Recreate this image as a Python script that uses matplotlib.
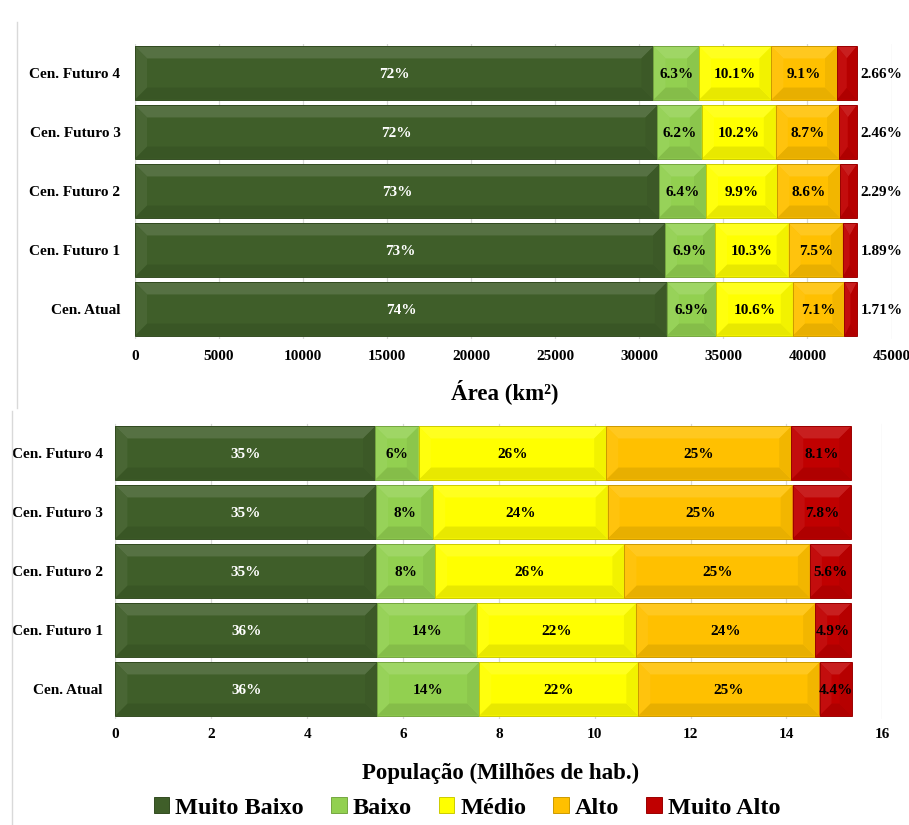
import matplotlib.pyplot as plt
from matplotlib.patches import Polygon, Rectangle, Patch
from matplotlib.lines import Line2D
from matplotlib.colors import to_rgb

plt.rcParams['font.family'] = ['Liberation Serif', 'DejaVu Serif']
plt.rcParams['font.weight'] = 'bold'

W, H = 909, 825

# categories, bottom to top
categories = ['Cen. Atual', 'Cen. Futuro 1', 'Cen. Futuro 2', 'Cen. Futuro 3', 'Cen. Futuro 4']
classes = ['Muito Baixo', 'Baixo', 'Médio', 'Alto', 'Muito Alto']
colors = ['#3F5E29', '#92D050', '#FFFF00', '#FFC000', '#C00000']
text_colors = ['white', 'black', 'black', 'black', 'black']

# area (km2) per susceptibility class
area_muito_baixo = [31640, 31530, 31180, 31080, 30840]
area_baixo = [2930, 2970, 2790, 2640, 2715]
area_medio = [4560, 4380, 4240, 4400, 4300]
area_alto = [3070, 3230, 3730, 3760, 3905]
area_muito_alto = [740, 810, 990, 1050, 1170]

area_lbl_muito_baixo = ['74%', '73%', '73%', '72%', '72%']
area_lbl_baixo = ['6.9%', '6.9%', '6.4%', '6.2%', '6.3%']
area_lbl_medio = ['10.6%', '10.3%', '9.9%', '10.2%', '10.1%']
area_lbl_alto = ['7.1%', '7.5%', '8.6%', '8.7%', '9.1%']
area_lbl_muito_alto = ['1.71%', '1.89%', '2.29%', '2.46%', '2.66%']

# population (millions) per susceptibility class
pop_muito_baixo = [5.46, 5.46, 5.44, 5.44, 5.42]
pop_baixo = [2.13, 2.08, 1.23, 1.19, 0.91]
pop_medio = [3.32, 3.32, 3.95, 3.64, 3.91]
pop_alto = [3.78, 3.74, 3.87, 3.86, 3.86]
pop_muito_alto = [0.67, 0.75, 0.86, 1.22, 1.25]

pop_lbl_muito_baixo = ['36%', '36%', '35%', '35%', '35%']
pop_lbl_baixo = ['14%', '14%', '8%', '8%', '6%']
pop_lbl_medio = ['22%', '22%', '26%', '24%', '26%']
pop_lbl_alto = ['25%', '24%', '25%', '25%', '25%']
pop_lbl_muito_alto = ['4.4%', '4.9%', '5.6%', '7.8%', '8.1%']


def mix(c, other, t):
    return tuple((1 - t) * a + t * b for a, b in zip(to_rgb(c), other))


def bevel(ax, rect, color, depth_px=12):
    x0, y0 = rect.get_x(), rect.get_y()
    w, h = rect.get_width(), rect.get_height()
    x1, y1 = x0 + w, y0 + h
    bb = ax.bbox
    xl, yl = ax.get_xlim(), ax.get_ylim()
    dx = min((xl[1] - xl[0]) / bb.width * depth_px, w / 2)
    dy = min((yl[1] - yl[0]) / bb.height * depth_px, h / 2)
    ix0, ix1, iy0, iy1 = x0 + dx, x1 - dx, y0 + dy, y1 - dy
    white, black = (1, 1, 1), (0, 0, 0)
    faces = [
        ([(x0, y1), (x1, y1), (ix1, iy1), (ix0, iy1)], mix(color, white, 0.12)),
        ([(x0, y0), (x1, y0), (ix1, iy0), (ix0, iy0)], mix(color, black, 0.09)),
        ([(x0, y0), (x0, y1), (ix0, iy1), (ix0, iy0)], mix(color, white, 0.05)),
        ([(x1, y0), (x1, y1), (ix1, iy1), (ix1, iy0)], mix(color, black, 0.05)),
    ]
    for pts, fc in faces:
        ax.add_patch(Polygon(pts, closed=True, fc=fc, lw=0, zorder=2.2))
    ax.add_patch(Rectangle((x0, y0), w, h, fill=False, ec=mix(color, black, 0.2),
                           lw=0.7, zorder=2.4))


def stacked(ax, series, labels, outside_last=False):
    y = range(len(categories))
    left = [0] * len(categories)
    for k, (vals, lbls) in enumerate(zip(series, labels)):
        bars = ax.barh(y, vals, left=left, height=0.9, color=colors[k], lw=0, zorder=2)
        for i, rect in enumerate(bars):
            bevel(ax, rect, colors[k])
            cy = rect.get_y() + rect.get_height() / 2
            if outside_last and k == len(series) - 1:
                ax.annotate(lbls[i], (rect.get_x() + rect.get_width(), cy),
                            xytext=(3, 0), textcoords='offset points',
                            ha='left', va='center_baseline', fontsize=11,
                            color='black', zorder=3)
            else:
                ax.text(rect.get_x() + rect.get_width() / 2, cy, lbls[i],
                        ha='center', va='center_baseline', fontsize=11,
                        color=text_colors[k], zorder=3)
        left = [a + b for a, b in zip(left, vals)]


def style(ax, xmax, step, ypad, xpad):
    ax.set_xlim(0, xmax)
    ax.set_ylim(-0.5, len(categories) - 0.5)
    ax.set_xticks(range(0, xmax + 1, step))
    ax.set_yticks(range(len(categories)))
    ax.set_yticklabels(categories)
    for s in ax.spines.values():
        s.set_visible(False)
    ax.set_axisbelow(True)
    ax.xaxis.grid(True, color='#D9D9D9', lw=0.9)
    ax.tick_params(axis='both', length=0, labelsize=11)
    ax.tick_params(axis='y', pad=ypad)
    ax.tick_params(axis='x', pad=xpad)


fig = plt.figure(figsize=(W / 100, H / 100), dpi=100)

ax1 = fig.add_axes([135 / W, 1 - 338.5 / H, (891.5 - 135) / W, 295 / H])
ax2 = fig.add_axes([115.4 / W, 1 - 718.5 / H, (882.3 - 115.4) / W, 295 / H])

style(ax1, 45000, 5000, 10.5, 8)
style(ax2, 16, 2, 9, 7)

stacked(ax1,
        [area_muito_baixo, area_baixo, area_medio, area_alto, area_muito_alto],
        [area_lbl_muito_baixo, area_lbl_baixo, area_lbl_medio, area_lbl_alto, area_lbl_muito_alto],
        outside_last=True)
stacked(ax2,
        [pop_muito_baixo, pop_baixo, pop_medio, pop_alto, pop_muito_alto],
        [pop_lbl_muito_baixo, pop_lbl_baixo, pop_lbl_medio, pop_lbl_alto, pop_lbl_muito_alto])

fig.text(505 / W, 1 - 392 / H, 'Área (km²)', ha='center', va='center', fontsize=16.5)
fig.text(501 / W, 1 - 773 / H, 'População (Milhões de hab.)', ha='center', va='center',
         fontsize=16.5)

# panel borders
fig.add_artist(Line2D([16.7 / W] * 2, [1 - 22 / H, 1 - 408 / H], transform=fig.transFigure,
                      color='#D9D9D9', lw=1))
fig.add_artist(Line2D([11.5 / W] * 2, [1 - 411 / H, 0], transform=fig.transFigure,
                      color='#D9D9D9', lw=1))

handles = [Patch(fc=c, ec=mix(c, (0, 0, 0), 0.2), lw=0.7) for c in colors]
fig.legend(handles, classes, loc='center', bbox_to_anchor=(467 / W, 1 - 808 / H),
           ncol=5, frameon=False, fontsize=17.5, handlelength=0.65, handleheight=0.65,
           handletextpad=0.25, columnspacing=1.1, borderpad=0)

fig.savefig('out.png', dpi=100)
